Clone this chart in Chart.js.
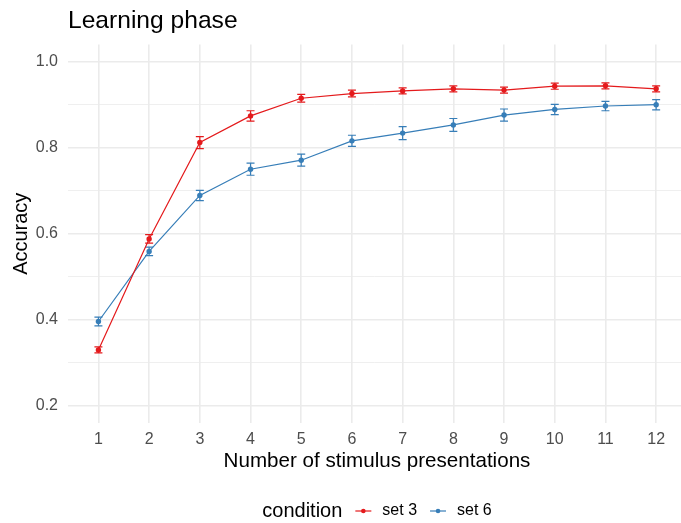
<!DOCTYPE html>
<html>
<head>
<meta charset="utf-8">
<title>Learning phase</title>
<script src="https://cdn.jsdelivr.net/npm/chart.js@4"></script>
<style>
  html, body { margin: 0; padding: 0; background: #ffffff; }
  #wrap { width: 681px; height: 523px; position: relative; }
</style>
</head>
<body>
<div id="wrap"><canvas id="chart"></canvas></div>
<script>
// Number of stimulus presentations (x categories)
const presentations = [1, 2, 3, 4, 5, 6, 7, 8, 9, 10, 11, 12];

// Mean accuracy and standard error per condition
const set3Acc = [0.330, 0.588, 0.812, 0.874, 0.915, 0.926, 0.932, 0.937, 0.934, 0.943, 0.944, 0.937];
const set3Se  = [0.007, 0.010, 0.014, 0.012, 0.009, 0.008, 0.007, 0.007, 0.007, 0.007, 0.007, 0.007];
const set6Acc = [0.396, 0.559, 0.689, 0.750, 0.771, 0.816, 0.834, 0.853, 0.876, 0.889, 0.897, 0.900];
const set6Se  = [0.010, 0.010, 0.012, 0.014, 0.014, 0.013, 0.015, 0.015, 0.014, 0.012, 0.011, 0.012];

// Axis breaks
const yMajorTicks = [0.2, 0.4, 0.6, 0.8, 1.0];
const yMinorTicks = [0.3, 0.5, 0.7, 0.9];
const conditionLabels = ['set 3', 'set 6'];

const RED = '#E41A1C';
const BLUE = '#377EB8';
const GRID = '#EBEBEB';
const FONT = "'Liberation Sans', Arial, Helvetica, sans-serif";
// horizontal centre of the full panel (the panel runs slightly past the canvas edge)
const PANEL_CENTER = 377;

function toPoints(values) {
  return presentations.map((p, i) => ({ x: p, y: values[i] }));
}

// Vertical error bars with small caps, drawn under the points
const errorBars = {
  id: 'errorBars',
  beforeDatasetsDraw(chart) {
    const { ctx, chartArea, scales: { x, y } } = chart;
    ctx.save();
    ctx.beginPath();
    ctx.rect(chartArea.left, chartArea.top, chartArea.right - chartArea.left, chartArea.bottom - chartArea.top);
    ctx.clip();
    chart.data.datasets.forEach(ds => {
      ctx.strokeStyle = ds.borderColor;
      ctx.lineWidth = 1.2;
      ds.data.forEach((pt, i) => {
        const se = ds.errors[i];
        const px = x.getPixelForValue(pt.x);
        const yTop = y.getPixelForValue(pt.y + se);
        const yBot = y.getPixelForValue(pt.y - se);
        const cap = 4;
        ctx.beginPath();
        ctx.moveTo(px, yTop); ctx.lineTo(px, yBot);
        ctx.moveTo(px - cap, yTop); ctx.lineTo(px + cap, yTop);
        ctx.moveTo(px - cap, yBot); ctx.lineTo(px + cap, yBot);
        ctx.stroke();
      });
    });
    ctx.restore();
  }
};

// Plot title (left-aligned with the panel) and x-axis title (centred on the panel)
const plotTitles = {
  id: 'plotTitles',
  afterDraw(chart) {
    const { ctx, chartArea } = chart;
    ctx.save();
    ctx.font = '24.6px ' + FONT;
    ctx.fillStyle = '#000000';
    ctx.textAlign = 'left';
    ctx.textBaseline = 'alphabetic';
    ctx.fillText('Learning phase', chartArea.left, 28);

    ctx.font = '20.6px ' + FONT;
    ctx.textAlign = 'center';
    ctx.textBaseline = 'middle';
    ctx.fillText('Number of stimulus presentations', PANEL_CENTER, 461);
    ctx.restore();
  }
};

// Horizontal legend at the bottom: "condition" followed by line+dot keys
const bottomLegend = {
  id: 'bottomLegend',
  afterDraw(chart) {
    const { ctx } = chart;
    const yMid = 511;
    ctx.save();
    ctx.textBaseline = 'middle';
    ctx.textAlign = 'left';

    ctx.font = '20px ' + FONT;
    const titleW = ctx.measureText('condition').width;
    ctx.font = '16px ' + FONT;
    const itemWs = chart.data.datasets.map(ds => ctx.measureText(ds.label).width);
    const keyW = 16, gapTitle = 13, gapKey = 11, gapItem = 13;
    let total = titleW + gapTitle;
    itemWs.forEach((w, i) => { total += keyW + gapKey + w + (i < itemWs.length - 1 ? gapItem : 0); });

    let cx = PANEL_CENTER - total / 2;

    ctx.font = '20px ' + FONT;
    ctx.fillStyle = '#000000';
    ctx.fillText('condition', cx, yMid);
    cx += titleW + gapTitle;

    chart.data.datasets.forEach((ds, i) => {
      ctx.strokeStyle = ds.borderColor;
      ctx.fillStyle = ds.borderColor;
      ctx.lineWidth = 1.2;
      ctx.beginPath();
      ctx.moveTo(cx, yMid); ctx.lineTo(cx + keyW, yMid);
      ctx.stroke();
      ctx.beginPath();
      ctx.arc(cx + keyW / 2, yMid, 2.3, 0, Math.PI * 2);
      ctx.fill();
      cx += keyW + gapKey;
      ctx.font = '16px ' + FONT;
      ctx.fillStyle = '#000000';
      ctx.fillText(ds.label, cx, yMid);
      cx += itemWs[i] + gapItem;
    });
    ctx.restore();
  }
};

const allYTicks = yMajorTicks.concat(yMinorTicks).sort((a, b) => a - b);
const isMajor = v => yMajorTicks.some(m => Math.abs(m - v) < 1e-9);

new Chart(document.getElementById('chart'), {
  type: 'line',
  data: {
    datasets: [
      {
        label: conditionLabels[0],
        data: toPoints(set3Acc),
        errors: set3Se,
        borderColor: RED,
        backgroundColor: RED,
        borderWidth: 1.2,
        pointRadius: 2.7,
        pointBorderWidth: 0,
        pointBackgroundColor: RED,
        tension: 0
      },
      {
        label: conditionLabels[1],
        data: toPoints(set6Acc),
        errors: set6Se,
        borderColor: BLUE,
        backgroundColor: BLUE,
        borderWidth: 1.2,
        pointRadius: 2.7,
        pointBorderWidth: 0,
        pointBackgroundColor: BLUE,
        tension: 0
      }
    ]
  },
  options: {
    responsive: true,
    maintainAspectRatio: false,
    animation: false,
    layout: { autoPadding: false, padding: { top: 44.5, right: 0, bottom: 49, left: 0 } },
    plugins: {
      legend: { display: false },
      title: { display: false },
      tooltip: { enabled: false }
    },
    scales: {
      x: {
        type: 'linear',
        min: 0.4,
        max: 12.49,
        afterBuildTicks(scale) {
          scale.ticks = presentations.map(v => ({ value: v }));
        },
        afterFit(scale) {
          scale.height = 51;
          scale.paddingLeft = 0;
          scale.paddingRight = 0;
        },
        border: { display: false },
        grid: { color: GRID, lineWidth: 1.6, drawTicks: false },
        ticks: {
          padding: 7,
          color: '#4D4D4D',
          font: { family: FONT, size: 16 },
          callback: v => String(v)
        },
        title: { display: false }
      },
      y: {
        type: 'linear',
        min: 0.16,
        max: 1.04,
        afterBuildTicks(scale) {
          scale.ticks = allYTicks.map(v => ({ value: v }));
        },
        afterFit(scale) {
          scale.width = 68;
          scale.paddingTop = 0;
          scale.paddingBottom = 0;
        },
        border: { display: false },
        grid: {
          color: GRID,
          lineWidth: ctx => (ctx.tick && isMajor(ctx.tick.value)) ? 1.6 : 0.8,
          drawTicks: false
        },
        ticks: {
          padding: 10,
          color: '#4D4D4D',
          font: { family: FONT, size: 16 },
          callback: v => isMajor(v) ? v.toFixed(1) : ''
        },
        title: {
          display: true,
          text: 'Accuracy',
          color: '#000000',
          font: { family: FONT, size: 20 },
          padding: { top: 9, bottom: 0 }
        }
      }
    }
  },
  plugins: [errorBars, plotTitles, bottomLegend]
});
</script>
</body>
</html>
